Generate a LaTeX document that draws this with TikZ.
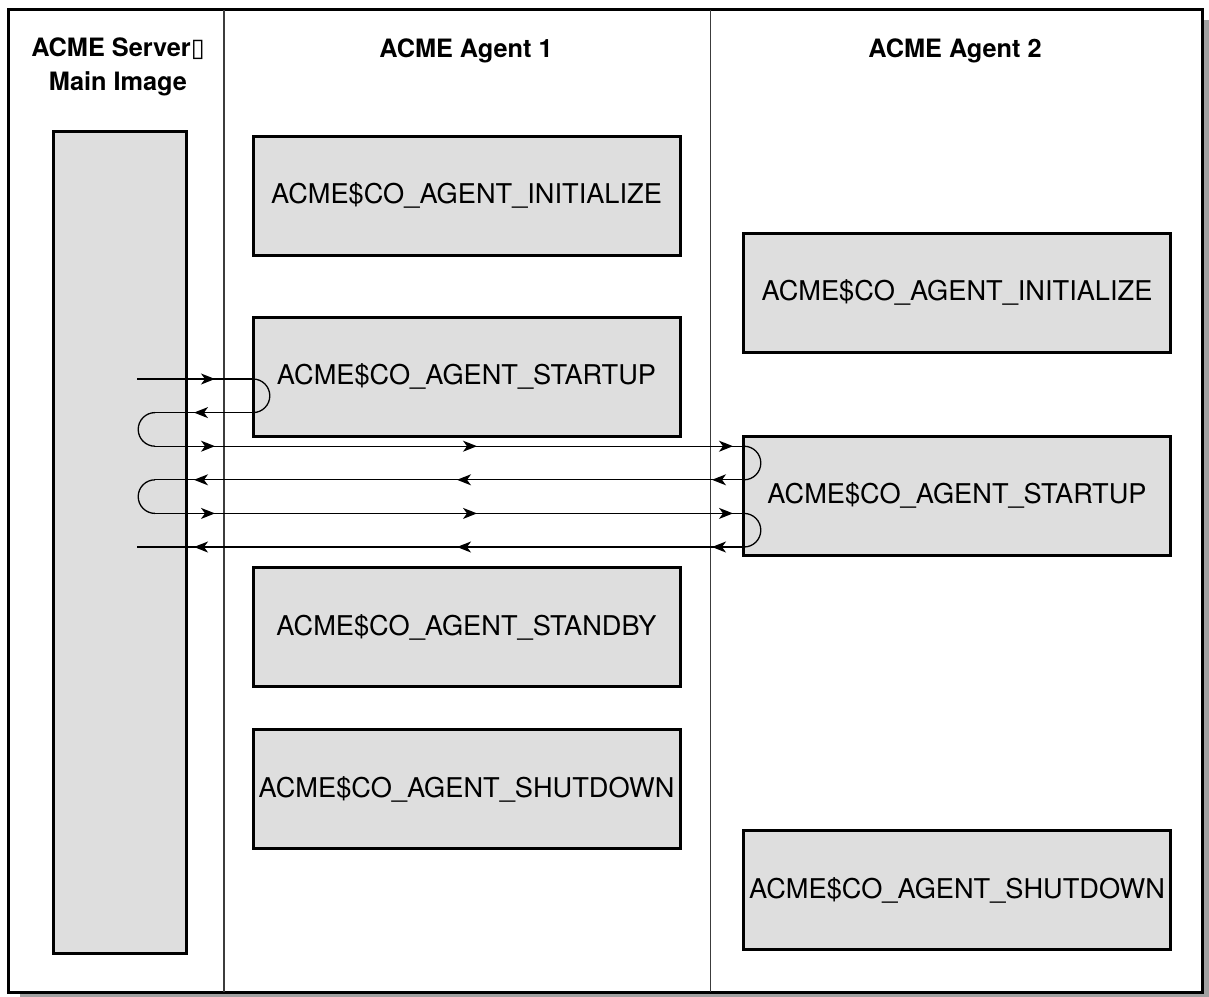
\documentclass[tikz,border=0pt]{standalone}
\usepackage{fontspec}
\setmainfont{TeX Gyre Heros}
\newfontfamily\dejavu{DejaVu Sans}
\usetikzlibrary{arrows.meta,decorations.markings}
\definecolor{boxgray}{RGB}{222,222,222}
\definecolor{shadowgray}{RGB}{160,160,160}
\definecolor{divgray}{RGB}{60,60,60}
\newcommand\tipmark{\arrow{Stealth[length=14pt,width=11pt,inset=4pt]}}
\tikzset{
  proc/.style={draw=black,line width=3pt,fill=boxgray,minimum width=427pt,minimum height=119pt,inner sep=0pt,font=\fontsize{27.2}{32}\selectfont},
  head/.style={font=\fontsize{25.3}{33.5}\selectfont\bfseries,align=center,inner sep=0pt},
  flow/.style={line width=1.3pt},
  tipsat/.style={postaction={decorate},decoration={markings,#1}},
  divider/.style={divgray,line width=1.6pt}
}
\begin{document}
\begin{tikzpicture}[x=1pt,y=-1pt]
\useasboundingbox (0,0) rectangle (1209,996);
% frame with shadow
\fill[shadowgray] (20,20) rectangle (1209,997);
\draw[line width=3pt,fill=white] (8,9.5) rectangle (1202,992);
% column dividers
\draw[divider] (224,9.5) -- (224,992);
\draw[divider] (710.5,9.5) -- (710.5,992);
% headers
\node[head] (hs) at (118,67) {ACME Server{\dejavu ▯}\\Main Image};
\node[head,anchor=base] (h1) at (466,57) {ACME Agent 1};
\node[head,anchor=base] (h2) at (955,57) {ACME Agent 2};
% server bar
\node[draw,line width=3pt,fill=boxgray,minimum width=133pt,minimum height=822pt] (srv) at (119.5,542) {};
% agent 1
\node[proc] (a1init) at (466.5,195.5) {ACME\$CO\_AGENT\_INITIALIZE};
\node[proc] (a1start) at (466.5,376.5) {ACME\$CO\_AGENT\_STARTUP};
\node[proc] (a1stby) at (466.5,627) {ACME\$CO\_AGENT\_STANDBY};
\node[proc] (a1shut) at (466.5,789) {ACME\$CO\_AGENT\_SHUTDOWN};
% agent 2
\node[proc] (a2init) at (957,292.5) {ACME\$CO\_AGENT\_INITIALIZE};
\node[proc] (a2start) at (957,495.5) {ACME\$CO\_AGENT\_STARTUP};
\node[proc] (a2shut) at (957,890) {ACME\$CO\_AGENT\_SHUTDOWN};
% flow coordinates
\coordinate (s1) at (137,379);    \coordinate (e1) at (253,379);
\coordinate (s2) at (253,412.6);  \coordinate (e2) at (155,412.6);
\coordinate (s3) at (155,446.2);  \coordinate (e3) at (744,446.2);
\coordinate (s4) at (744,479.8);  \coordinate (e4) at (155,479.8);
\coordinate (s5) at (155,513.4);  \coordinate (e5) at (744,513.4);
\coordinate (s6) at (744,547);    \coordinate (e6) at (137,547);
% horizontal messages
\draw[flow,tipsat={mark=at position 78pt with {\tipmark}}] (s1) -- (e1);
\draw[flow,tipsat={mark=at position 59pt with {\tipmark}}] (s2) -- (e2);
\draw[flow,tipsat={mark=at position 60pt with {\tipmark},mark=at position 322pt with {\tipmark},mark=at position 578pt with {\tipmark}}] (s3) -- (e3);
\draw[flow,tipsat={mark=at position 32pt with {\tipmark},mark=at position 287pt with {\tipmark},mark=at position 550pt with {\tipmark}}] (s4) -- (e4);
\draw[flow,tipsat={mark=at position 60pt with {\tipmark},mark=at position 322pt with {\tipmark},mark=at position 578pt with {\tipmark}}] (s5) -- (e5);
\draw[flow,tipsat={mark=at position 32pt with {\tipmark},mark=at position 287pt with {\tipmark},mark=at position 550pt with {\tipmark}}] (s6) -- (e6);
% loops
\draw[flow] (e1) arc[start angle=-90,end angle=90,radius=16.8];
\draw[flow] (e2) arc[start angle=-90,end angle=-270,radius=16.8];
\draw[flow] (e3) arc[start angle=-90,end angle=90,radius=16.8];
\draw[flow] (e4) arc[start angle=-90,end angle=-270,radius=16.8];
\draw[flow] (e5) arc[start angle=-90,end angle=90,radius=16.8];
\end{tikzpicture}
\end{document}
